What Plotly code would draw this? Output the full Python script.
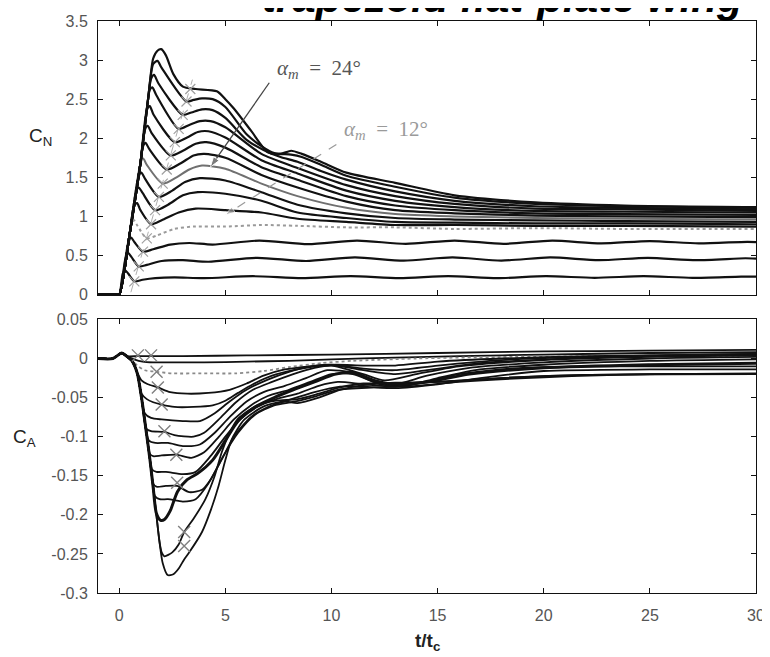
import plotly.graph_objects as go

# ---------------- top panel : C_N curves (t/t_c , C_N) ----------------
CN_T01 = [-1, -0.15, 0, 0.17, 0.28, 0.42, 0.71, 1.1, 1.7, 2.6, 4.0, 6.3, 8.6, 10.9, 13.2, 15.5, 17.8, 20.1, 22.4, 24.7, 27.0, 29.3, 30]
CN_V01 = [0, 0, 0, 0.27, 0.31, 0.27, 0.17, 0.19, 0.21, 0.22, 0.21, 0.235, 0.21, 0.235, 0.21, 0.235, 0.21, 0.235, 0.215, 0.235, 0.215, 0.23, 0.23]
CN_T02 = [-1, -0.15, 0, 0.3, 0.43, 0.58, 0.92, 1.3, 2.0, 3.0, 4.2, 6.5, 8.8, 11.1, 13.4, 15.7, 18.0, 20.3, 22.6, 24.9, 27.2, 29.5, 30]
CN_V02 = [0, 0, 0, 0.47, 0.53, 0.48, 0.36, 0.38, 0.43, 0.44, 0.42, 0.47, 0.43, 0.475, 0.435, 0.475, 0.435, 0.475, 0.44, 0.47, 0.44, 0.465, 0.46]
CN_T03 = [-1, -0.15, 0, 0.42, 0.56, 0.72, 1.12, 1.6, 2.4, 3.3, 4.4, 6.6, 8.9, 11.2, 13.5, 15.8, 18.1, 20.4, 22.7, 25.0, 27.3, 29.6, 30]
CN_V03 = [0, 0, 0, 0.66, 0.73, 0.67, 0.55, 0.58, 0.64, 0.66, 0.64, 0.69, 0.645, 0.69, 0.65, 0.69, 0.65, 0.69, 0.655, 0.685, 0.655, 0.675, 0.67]
CN_T04 = [-1, -0.15, 0, 0.5, 0.58, 0.7, 0.86, 1.3, 1.8, 2.6, 3.5, 5.0, 6.7, 8.4, 10.7, 13, 15.8, 19.6, 23.8, 30]
CN_V04 = [0, 0, 0, 0.79, 0.92, 0.95, 0.88, 0.72, 0.76, 0.84, 0.87, 0.87, 0.89, 0.88, 0.86, 0.86, 0.84, 0.85, 0.84, 0.84]
CN_T05 = [-1, -0.15, 0, 0.5, 0.7, 0.84, 1.0, 1.5, 2.0, 2.8, 3.6, 5.0, 6.7, 8.4, 10.7, 13, 15.8, 19.6, 23.8, 30]
CN_V05 = [0, 0, 0, 0.79, 1.14, 1.17, 1.08, 0.90, 0.95, 1.05, 1.10, 1.08, 1.05, 0.97, 0.93, 0.89, 0.89, 0.88, 0.88, 0.87]
CN_T06 = [-1, -0.15, 0, 0.5, 0.8, 0.92, 1.1, 1.69, 2.3, 3.0, 3.7, 5.0, 6.7, 8.4, 10.7, 13, 15.8, 19.6, 23.8, 30]
CN_V06 = [0, 0, 0, 0.79, 1.32, 1.37, 1.3, 1.08, 1.15, 1.27, 1.31, 1.29, 1.2, 1.05, 0.98, 0.93, 0.92, 0.91, 0.91, 0.90]
CN_T07 = [-1, -0.15, 0, 0.5, 0.9, 1.04, 1.22, 1.87, 2.5, 3.1, 3.8, 5.0, 6.7, 8.4, 10.7, 13, 15.8, 19.6, 23.8, 30]
CN_V07 = [0, 0, 0, 0.79, 1.5, 1.56, 1.48, 1.25, 1.33, 1.44, 1.49, 1.46, 1.31, 1.15, 1.04, 0.98, 0.96, 0.95, 0.94, 0.93]
CN_T08 = [-1, -0.15, 0, 0.5, 1.0, 1.13, 1.3, 2.05, 2.7, 3.3, 3.9, 5.0, 6.7, 8.4, 10.7, 13, 15.8, 19.6, 23.8, 30]
CN_V08 = [0, 0, 0, 0.79, 1.68, 1.74, 1.66, 1.42, 1.5, 1.6, 1.65, 1.61, 1.42, 1.26, 1.11, 1.03, 1.0, 0.98, 0.97, 0.96]
CN_T09 = [-1, -0.15, 0, 0.5, 1.0, 1.1, 1.24, 1.42, 2.24, 2.9, 3.5, 4.0, 5.0, 6.7, 8.4, 10.7, 13, 15.8, 19.6, 23.8, 30]
CN_V09 = [0, 0, 0, 0.79, 1.68, 1.88, 1.94, 1.86, 1.6, 1.68, 1.78, 1.8, 1.75, 1.53, 1.37, 1.19, 1.08, 1.04, 1.01, 1.0, 0.99]
CN_T10 = [-1, -0.15, 0, 0.5, 1.0, 1.2, 1.34, 1.52, 2.43, 3.0, 3.6, 4.1, 5.0, 6.7, 8.4, 10.7, 13, 15.8, 19.6, 23.8, 30]
CN_V10 = [0, 0, 0, 0.79, 1.68, 2.1, 2.16, 2.07, 1.78, 1.84, 1.93, 1.95, 1.88, 1.63, 1.47, 1.26, 1.14, 1.08, 1.04, 1.03, 1.02]
CN_T11 = [-1, -0.15, 0, 0.5, 1.0, 1.3, 1.44, 1.62, 2.62, 3.2, 3.7, 4.2, 5.0, 6.7, 8.4, 10.7, 13, 15.8, 19.6, 23.8, 30]
CN_V11 = [0, 0, 0, 0.79, 1.68, 2.36, 2.41, 2.3, 1.95, 2.01, 2.08, 2.09, 2.01, 1.72, 1.55, 1.33, 1.20, 1.12, 1.07, 1.06, 1.05]
CN_T12 = [-1, -0.15, 0, 0.5, 1.0, 1.36, 1.44, 1.56, 1.75, 2.8, 3.3, 3.8, 4.3, 5.0, 6.7, 8.4, 10.7, 13, 15.8, 19.6, 23.8, 30]
CN_V12 = [0, 0, 0, 0.79, 1.68, 2.5, 2.62, 2.65, 2.55, 2.12, 2.17, 2.22, 2.22, 2.14, 1.80, 1.62, 1.40, 1.26, 1.16, 1.10, 1.09, 1.07]
CN_T13 = [-1, -0.15, 0, 0.5, 1.0, 1.36, 1.5, 1.64, 1.85, 2.99, 3.4, 3.9, 4.4, 5.0, 6.0, 6.8, 7.6, 8.4, 9.5, 10.7, 13, 15.8, 19.6, 23.8, 30]
CN_V13 = [0, 0, 0, 0.79, 1.68, 2.5, 2.76, 2.81, 2.7, 2.3, 2.33, 2.37, 2.36, 2.26, 1.98, 1.85, 1.76, 1.70, 1.58, 1.47, 1.32, 1.20, 1.13, 1.11, 1.09]
CN_T14 = [-1, -0.15, 0, 0.5, 1.0, 1.36, 1.6, 1.8, 2.0, 3.17, 3.5, 3.9, 4.4, 5.0, 6.0, 6.7, 7.3, 8.1, 8.6, 9.5, 10.7, 13, 15.8, 19.6, 23.8, 30]
CN_V14 = [0, 0, 0, 0.79, 1.68, 2.5, 2.95, 2.99, 2.9, 2.47, 2.49, 2.51, 2.5, 2.40, 2.05, 1.9, 1.81, 1.79, 1.76, 1.66, 1.52, 1.38, 1.24, 1.16, 1.13, 1.11]
CN_T15 = [-1, -0.15, 0, 0.5, 1.0, 1.36, 1.6, 1.8, 1.98, 2.2, 2.55, 3.0, 3.6, 4.6, 5.0, 5.4, 6.2, 7.0, 7.6, 8.1, 8.6, 9.5, 10.7, 13, 15.8, 19.6, 23.8, 30]
CN_V15 = [0, 0, 0, 0.79, 1.68, 2.5, 3.02, 3.12, 3.14, 3.06, 2.82, 2.66, 2.63, 2.6, 2.5, 2.38, 2.1, 1.82, 1.8, 1.84, 1.8, 1.7, 1.56, 1.43, 1.27, 1.18, 1.14, 1.12]

# x markers (end of motion) and grey guide line in the top panel
XM_CN_T = [0.71, 0.92, 1.12, 1.3, 1.5, 1.69, 1.87, 2.05, 2.24, 2.43, 2.62, 2.8, 2.99, 3.17, 3.35]
XM_CN_V = [0.17, 0.36, 0.55, 0.72, 0.90, 1.08, 1.25, 1.42, 1.6, 1.78, 1.95, 2.12, 2.3, 2.47, 2.63]
GUIDE_T = [0.55, 3.45]
GUIDE_V = [0.03, 2.75]

# annotation arrows (tail -> tip), top panel
ARROW24_T = [7.07, 4.29]
ARROW24_V = [2.71, 1.63]
ARROW12_T = [10.23, 5.0]
ARROW12_V = [1.92, 1.02]

# ---------------- bottom panel : C_A curves (t/t_c , C_A) ----------------
CA_HEAD_T = [-1, -0.3, 0.12, 0.35]
CA_HEAD_V = [0, 0, 0.007, 0.003]
CA_T01 = [0.88, 1.5, 3, 6, 10, 15, 20, 25, 30]
CA_V01 = [0.003, 0.003, 0.003, 0.004, 0.005, 0.007, 0.009, 0.01, 0.011]
CA_T02 = [0.7, 1.1, 1.6, 2.5, 4, 6, 8, 10, 13, 16, 20, 25, 30]
CA_V02 = [-0.001, -0.004, -0.005, -0.005, -0.005, -0.004, -0.003, -0.001, 0.001, 0.003, 0.005, 0.007, 0.008]
CA_T03 = [0.6, 0.85, 1.2, 1.76, 2.5, 4, 5.5, 6.8, 8, 9.5, 11, 14, 18, 24, 30]
CA_V03 = [-0.002, -0.009, -0.015, -0.017, -0.019, -0.019, -0.019, -0.016, -0.011, -0.006, -0.003, 0.0, 0.002, 0.003, 0.004]
CA_T04 = [0.6, 0.85, 1.05, 1.35, 1.82, 2.4, 3.2, 4.2, 5.2, 6.0, 6.8, 7.8, 9.0, 10.2, 11.5, 13, 15, 18, 22, 26, 30]
CA_V04 = [-0.003, -0.018, -0.028, -0.033, -0.037, -0.043, -0.045, -0.044, -0.04, -0.032, -0.022, -0.014, -0.01, -0.008, -0.009, -0.009, -0.004, 0.0, 0.003, 0.004, 0.005]
CA_T05 = [0.6, 0.85, 1.05, 1.3, 1.6, 2.0, 2.6, 3.5, 4.4, 5.0, 5.6, 6.3, 7.2, 8.2, 9.3, 10.3, 11.5, 13, 15, 18, 22, 26, 30]
CA_V05 = [-0.003, -0.019, -0.045, -0.052, -0.056, -0.059, -0.062, -0.062, -0.06, -0.054, -0.044, -0.033, -0.022, -0.015, -0.01, -0.009, -0.013, -0.015, -0.009, -0.002, 0.002, 0.004, 0.006]
CA_T06 = [0.6, 0.85, 1.05, 1.2, 1.5, 2.0, 3.0, 3.8, 4.5, 5.2, 6.0, 7.0, 8.0, 9.0, 10.0, 11.5, 13, 14.5, 17, 21, 25, 30]
CA_V06 = [-0.003, -0.019, -0.05, -0.07, -0.076, -0.078, -0.08, -0.08, -0.07, -0.055, -0.04, -0.027, -0.017, -0.01, -0.008, -0.015, -0.02, -0.015, -0.006, 0.0, 0.004, 0.006]
CA_T07 = [0.6, 0.85, 1.05, 1.28, 1.5, 2.13, 2.6, 3.5, 4.0, 4.8, 5.5, 6.3, 7.2, 8.2, 9.2, 10.0, 11.5, 12.5, 14, 16, 20, 25, 30]
CA_V07 = [-0.003, -0.019, -0.05, -0.09, -0.093, -0.094, -0.098, -0.1, -0.095, -0.075, -0.056, -0.04, -0.03, -0.02, -0.012, -0.009, -0.02, -0.028, -0.02, -0.01, -0.002, 0.002, 0.004]
CA_T08 = [0.6, 0.85, 1.05, 1.28, 1.4, 1.7, 2.3, 3.0, 3.8, 4.5, 5.2, 6.0, 6.8, 7.8, 8.8, 9.8, 11, 12, 13, 14.5, 16.5, 20, 25, 30]
CA_V08 = [-0.003, -0.019, -0.05, -0.095, -0.105, -0.108, -0.108, -0.112, -0.11, -0.095, -0.075, -0.055, -0.043, -0.035, -0.025, -0.015, -0.018, -0.03, -0.033, -0.022, -0.012, -0.005, 0.0, 0.002]
CA_T09 = [0.6, 0.85, 1.05, 1.28, 1.45, 1.6, 2.0, 2.69, 3.4, 4.0, 4.7, 5.4, 6.2, 7.0, 8.0, 9.0, 10.0, 11, 12.3, 13.5, 15, 17, 20, 25, 30]
CA_V09 = [-0.003, -0.019, -0.05, -0.095, -0.122, -0.125, -0.124, -0.123, -0.127, -0.12, -0.1, -0.078, -0.06, -0.048, -0.04, -0.03, -0.02, -0.02, -0.033, -0.035, -0.025, -0.014, -0.008, -0.003, -0.001]
CA_T10 = [0.6, 0.85, 1.05, 1.28, 1.45, 1.55, 1.75, 2.2, 3.0, 3.6, 4.3, 5.0, 5.7, 6.5, 7.4, 8.4, 9.4, 10.3, 11.5, 13, 14.5, 16, 19, 24, 30]
CA_V10 = [-0.003, -0.019, -0.05, -0.095, -0.13, -0.142, -0.145, -0.145, -0.148, -0.145, -0.125, -0.1, -0.078, -0.062, -0.052, -0.045, -0.035, -0.03, -0.033, -0.036, -0.03, -0.02, -0.012, -0.01, -0.01]
CA_T11 = [0.6, 0.85, 1.05, 1.28, 1.45, 1.6, 1.75, 2.2, 2.73, 3.3, 3.9, 4.3, 4.83, 5.4, 6.2, 7.0, 8.0, 9.2, 10.4, 11.5, 13, 15, 17, 20, 25, 30]
CA_V11 = [-0.003, -0.019, -0.05, -0.095, -0.13, -0.16, -0.164, -0.163, -0.163, -0.171, -0.168, -0.155, -0.129, -0.1, -0.075, -0.062, -0.053, -0.043, -0.036, -0.036, -0.038, -0.033, -0.025, -0.016, -0.014, -0.014]
CA_T12 = [0.6, 0.85, 1.05, 1.28, 1.45, 1.6, 1.68, 1.9, 2.3, 3.0, 3.6, 4.2, 4.9, 5.6, 6.4, 7.3, 8.3, 9.3, 10.3, 12, 14, 16, 20, 25, 30]
CA_V12 = [-0.003, -0.019, -0.05, -0.095, -0.13, -0.165, -0.176, -0.18, -0.18, -0.183, -0.18, -0.16, -0.125, -0.095, -0.072, -0.06, -0.055, -0.048, -0.04, -0.037, -0.035, -0.03, -0.024, -0.02, -0.02]
CA_T13 = [0.6, 0.85, 1.05, 1.28, 1.45, 1.6, 1.75, 1.95, 2.13, 2.4, 2.75, 3.2, 3.7, 4.4, 5.0, 5.6, 6.4, 7.3, 8.2, 9.2, 10.2, 11, 12, 13, 14.5, 16.5, 20, 25, 30]
CA_V13 = [-0.003, -0.019, -0.05, -0.095, -0.13, -0.165, -0.198, -0.207, -0.206, -0.195, -0.17, -0.155, -0.147, -0.13, -0.105, -0.08, -0.062, -0.05, -0.04, -0.03, -0.02, -0.018, -0.028, -0.033, -0.03, -0.02, -0.012, -0.008, -0.006]
CA_T14 = [0.6, 0.85, 1.05, 1.28, 1.45, 1.6, 1.75, 1.9, 2.0, 2.13, 2.5, 2.8, 3.06, 3.5, 4.06, 4.5, 4.83, 5.2, 5.6, 6.5, 7.4, 8.4, 9.4, 10.4, 11.5, 13, 15, 18, 22, 30]
CA_V14 = [-0.003, -0.019, -0.05, -0.095, -0.13, -0.165, -0.2, -0.235, -0.248, -0.253, -0.248, -0.238, -0.222, -0.205, -0.18, -0.15, -0.12, -0.095, -0.077, -0.06, -0.054, -0.052, -0.045, -0.037, -0.032, -0.032, -0.03, -0.025, -0.021, -0.019]
CA_T15 = [0.6, 0.85, 1.05, 1.28, 1.45, 1.6, 1.75, 1.9, 2.05, 2.28, 2.55, 2.82, 3.06, 3.3, 3.9, 4.3, 4.68, 5.0, 5.29, 5.9, 6.84, 7.8, 8.4, 9.4, 10.4, 11.5, 13, 15, 18, 22, 30]
CA_V15 = [-0.003, -0.019, -0.05, -0.095, -0.13, -0.165, -0.2, -0.235, -0.262, -0.277, -0.276, -0.268, -0.257, -0.248, -0.222, -0.195, -0.163, -0.13, -0.104, -0.078, -0.061, -0.055, -0.057, -0.05, -0.04, -0.034, -0.031, -0.03, -0.025, -0.021, -0.02]

XM_CA_T = [0.88, 1.5, 1.76, 1.82, 2.0, 2.13, 2.69, 2.73, 3.06, 3.06]
XM_CA_V = [0.004, 0.004, -0.017, -0.037, -0.059, -0.093, -0.123, -0.159, -0.222, -0.24]

# tick labels
X_TICKS = [0, 5, 10, 15, 20, 25, 30]
CN_TICKS = [0, 0.5, 1, 1.5, 2, 2.5, 3, 3.5]
CN_TICKTEXT = ["0", "0.5", "1", "1.5", "2", "2.5", "3", "3.5"]
CA_TICKS = [-0.3, -0.25, -0.2, -0.15, -0.1, -0.05, 0, 0.05]
CA_TICKTEXT = ["-0.3", "-0.25", "-0.2", "-0.15", "-0.1", "-0.05", "0", "0.05"]

CN_SERIES = [(CN_T01, CN_V01), (CN_T02, CN_V02), (CN_T03, CN_V03), (CN_T04, CN_V04), (CN_T05, CN_V05),
             (CN_T06, CN_V06), (CN_T07, CN_V07), (CN_T08, CN_V08), (CN_T09, CN_V09), (CN_T10, CN_V10),
             (CN_T11, CN_V11), (CN_T12, CN_V12), (CN_T13, CN_V13), (CN_T14, CN_V14), (CN_T15, CN_V15)]
CA_SERIES = [(CA_T01, CA_V01), (CA_T02, CA_V02), (CA_T03, CA_V03), (CA_T04, CA_V04), (CA_T05, CA_V05),
             (CA_T06, CA_V06), (CA_T07, CA_V07), (CA_T08, CA_V08), (CA_T09, CA_V09), (CA_T10, CA_V10),
             (CA_T11, CA_V11), (CA_T12, CA_V12), (CA_T13, CA_V13), (CA_T14, CA_V14), (CA_T15, CA_V15)]

FONT = "Liberation Sans, Arial, sans-serif"
SERIF = "Liberation Serif, DejaVu Serif, serif"

fig = go.Figure()

# grey guide line through the x markers (top)
fig.add_trace(go.Scatter(x=GUIDE_T, y=GUIDE_V, mode="lines", xaxis="x", yaxis="y",
                         line=dict(color="#b0b0b0", width=1, dash="dash"),
                         hoverinfo="skip", showlegend=False))

for i, (t, v) in enumerate(CN_SERIES):
    color, width, dash = "#111111", 2.2, "solid"
    if i == 3:
        color, width, dash = "#9a9a9a", 2.0, "dot"
    elif i == 7:
        color, width = "#707070", 2.0
    fig.add_trace(go.Scatter(x=t, y=v, mode="lines", xaxis="x", yaxis="y",
                             line=dict(color=color, width=width, dash=dash, shape="spline", smoothing=0.7),
                             hoverinfo="skip", showlegend=False))

fig.add_trace(go.Scatter(x=XM_CN_T, y=XM_CN_V, mode="markers", xaxis="x", yaxis="y",
                         marker=dict(symbol="x-thin", size=10, line=dict(color="#a0a0a0", width=1.2)),
                         hoverinfo="skip", showlegend=False))

# annotation arrows drawn as line traces with an arrow marker at the tip
fig.add_trace(go.Scatter(x=ARROW24_T, y=ARROW24_V, mode="lines+markers", xaxis="x", yaxis="y",
                         line=dict(color="#444444", width=1.3),
                         marker=dict(symbol="arrow", angleref="previous", size=[0, 11], color="#444444"),
                         hoverinfo="skip", showlegend=False))
fig.add_trace(go.Scatter(x=ARROW12_T, y=ARROW12_V, mode="lines+markers", xaxis="x", yaxis="y",
                         line=dict(color="#9a9a9a", width=1.2, dash="dash"),
                         marker=dict(symbol="arrow", angleref="previous", size=[0, 10], color="#9a9a9a"),
                         hoverinfo="skip", showlegend=False))

for i, (t, v) in enumerate(CA_SERIES):
    color, width, dash = "#111111", 1.8, "solid"
    if i == 2:
        color, width, dash = "#8a8a8a", 1.8, "dot"
    elif i == 12:
        width = 3.0
    fig.add_trace(go.Scatter(x=CA_HEAD_T + t, y=CA_HEAD_V + v, mode="lines", xaxis="x2", yaxis="y2",
                             line=dict(color=color, width=width, dash=dash, shape="spline", smoothing=0.7),
                             hoverinfo="skip", showlegend=False))

fig.add_trace(go.Scatter(x=XM_CA_T, y=XM_CA_V, mode="markers", xaxis="x2", yaxis="y2",
                         marker=dict(symbol="x-thin", size=12, line=dict(color="#808080", width=1.4)),
                         hoverinfo="skip", showlegend=False))

axis_common = dict(showline=True, linecolor="#111111", linewidth=1, mirror="ticks",
                   ticks="inside", ticklen=5, tickcolor="#111111", tickwidth=1,
                   showgrid=False, zeroline=False, ticklabeloverflow="allow",
                   tickfont=dict(family=FONT, size=16, color="#555555"))

# the page body adds an 8 px offset, so the figure is 8 px smaller and margins shifted
fig.update_layout(
    width=762, height=649,
    margin=dict(l=90, r=5, t=10, b=64),
    paper_bgcolor="white", plot_bgcolor="white",
    xaxis=dict(domain=[0, 1], range=[-1, 30], anchor="y", tickvals=X_TICKS,
               showticklabels=False, **axis_common),
    yaxis=dict(domain=[0.5217, 1], range=[0, 3.5], anchor="x", tickvals=CN_TICKS,
               ticktext=CN_TICKTEXT, ticklabelstandoff=6, **axis_common),
    xaxis2=dict(domain=[0, 1], range=[-1, 30], anchor="y2", tickvals=X_TICKS,
                ticklabelstandoff=8, **axis_common),
    yaxis2=dict(domain=[0, 0.4783], range=[-0.3, 0.05], anchor="x2", tickvals=CA_TICKS,
                ticktext=CA_TICKTEXT, ticklabelstandoff=6, **axis_common),
    showlegend=False,
)

annotations = [
    dict(text="<b><i>trapezoid flat-plate wing</i></b>", xref="paper", yref="paper",
         x=0.615, y=1.085, xanchor="center", yanchor="top", showarrow=False,
         font=dict(family=FONT, size=42, color="#000000")),
    dict(text="C<sub>N</sub>", xref="paper", yref="paper", x=-0.087, y=0.797,
         xanchor="center", yanchor="middle", showarrow=False,
         font=dict(family=FONT, size=19, color="#222222")),
    dict(text="C<sub>A</sub>", xref="paper", yref="paper", x=-0.112, y=0.271,
         xanchor="center", yanchor="middle", showarrow=False,
         font=dict(family=FONT, size=19, color="#222222")),
    dict(text="<b>t/t<sub>c</sub></b>", xref="paper", yref="paper", x=0.5, y=-0.085,
         xanchor="center", yanchor="middle", showarrow=False,
         font=dict(family=FONT, size=19, color="#222222")),
    dict(text="<i>α<sub>m</sub></i>&nbsp; =&nbsp; 24°", xref="x", yref="y", x=9.41, y=2.89,
         xanchor="center", yanchor="middle", showarrow=False,
         font=dict(family=SERIF, size=21, color="#555555")),
    dict(text="<i>α<sub>m</sub></i>&nbsp; =&nbsp; 12°", xref="x", yref="y", x=12.57, y=2.11,
         xanchor="center", yanchor="middle", showarrow=False,
         font=dict(family=SERIF, size=21, color="#9a9a9a")),
]
fig.update_layout(annotations=annotations)

fig.write_html("out.html")
